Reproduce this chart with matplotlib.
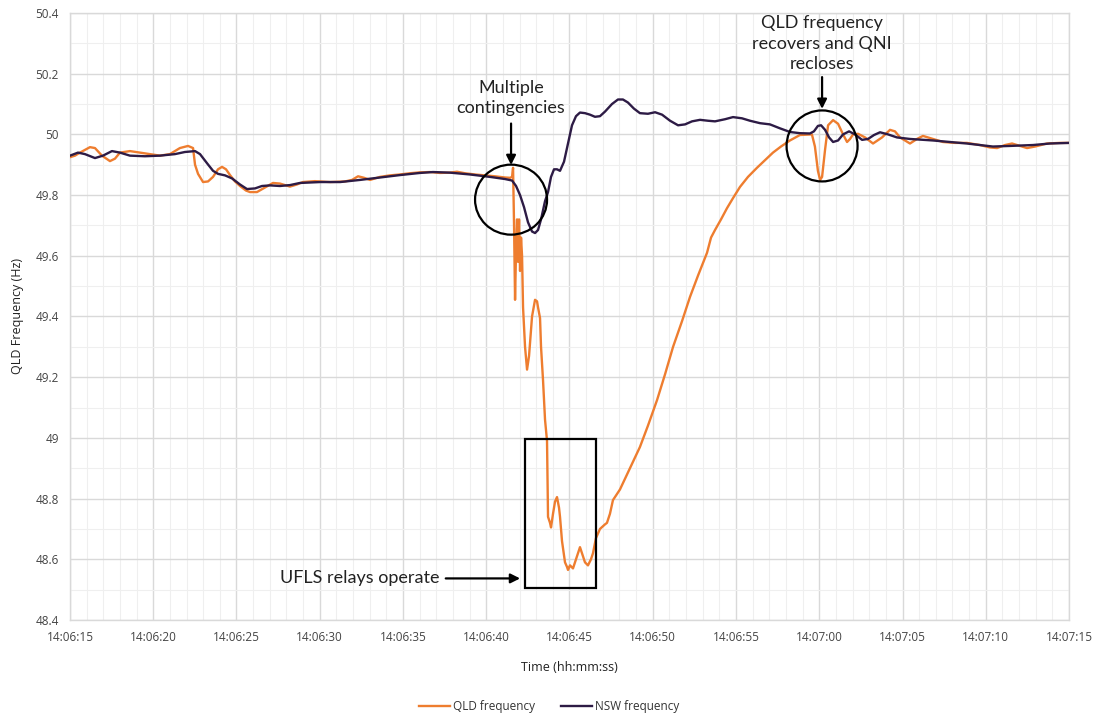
import matplotlib
matplotlib.use("Agg")
import matplotlib.pyplot as plt
from matplotlib.patches import Ellipse, Rectangle
from matplotlib.ticker import MultipleLocator, FixedLocator

plt.rcParams['font.family'] = ['Open Sans', 'DejaVu Sans']

# Time in seconds after 14:06:00, frequency in Hz
qld_t = [15.0, 15.3, 15.6, 16.2, 16.5, 16.92, 17.4, 17.7, 18.0, 18.6, 19.2, 19.8, 20.4, 21.0,
         21.6, 22.09, 22.39, 22.51, 22.69, 22.99, 23.29, 23.59, 23.89, 24.13, 24.37, 24.61,
         24.91, 25.21, 25.57, 25.81, 26.23, 26.71, 27.19, 27.61, 28.21, 28.63, 28.99, 29.71,
         30.62, 31.52, 31.94, 32.30, 32.66, 33.02, 33.62, 34.22, 34.82, 35.42, 36.02, 36.62,
         37.22, 37.82, 38.24, 38.72, 39.32, 39.92, 40.52, 41.12, 41.43, 41.55, 41.61, 41.67,
         41.73, 41.79, 41.85, 41.91, 41.97, 42.03, 42.09, 42.15, 42.21, 42.33, 42.45, 42.57,
         42.75, 42.93, 43.05, 43.11, 43.23, 43.29, 43.41, 43.53, 43.65, 43.71, 43.83, 43.89,
         44.01, 44.13, 44.25, 44.37, 44.43, 44.55, 44.73, 44.85, 44.91, 45.03, 45.21, 45.45,
         45.63, 45.75, 45.93, 46.11, 46.29, 46.41, 46.59, 46.83, 47.13, 47.25, 47.43, 47.61,
         48.03, 48.63, 49.23, 49.71, 50.26, 50.74, 51.22, 51.76, 52.24, 52.72, 53.26, 53.5,
         53.74, 54.1, 54.46, 54.82, 55.24, 55.72, 56.26, 56.74, 57.22, 57.7, 58.24, 58.84,
         59.56, 59.74, 59.92, 60.05, 60.17, 60.35, 60.53, 60.83, 61.13, 61.43, 61.67, 61.85,
         62.03, 62.33, 62.75, 63.23, 63.77, 64.25, 64.55, 64.85, 65.45, 65.87, 66.23, 66.83,
         67.43, 68.15, 68.87, 69.65, 70.25, 70.68, 71.16, 71.58, 72.06, 72.48, 72.96, 73.68,
         74.46, 75.0]
qld_f = [49.925, 49.93, 49.94, 49.958, 49.955, 49.93, 49.912, 49.92, 49.94, 49.945, 49.94,
         49.935, 49.93, 49.935, 49.955, 49.962, 49.955, 49.90, 49.87, 49.843, 49.845, 49.86,
         49.885, 49.893, 49.885, 49.866, 49.845, 49.83, 49.815, 49.81, 49.81, 49.825, 49.84,
         49.838, 49.828, 49.835, 49.843, 49.846, 49.843, 49.845, 49.85, 49.862, 49.857, 49.85,
         49.86, 49.865, 49.868, 49.872, 49.875, 49.876, 49.873, 49.874, 49.877, 49.872, 49.868,
         49.865, 49.862, 49.858, 49.857, 49.86, 49.89, 49.70, 49.455, 49.62, 49.72, 49.58,
         49.72, 49.55, 49.66, 49.60, 49.43, 49.30, 49.225, 49.27, 49.40, 49.455, 49.45, 49.43,
         49.395, 49.30, 49.19, 49.06, 48.99, 48.74, 48.72, 48.705, 48.75, 48.79, 48.805, 48.77,
         48.74, 48.66, 48.59, 48.575, 48.565, 48.58, 48.57, 48.61, 48.64, 48.62, 48.59, 48.58,
         48.60, 48.62, 48.67, 48.70, 48.715, 48.72, 48.75, 48.795, 48.83, 48.90, 48.97, 49.04,
         49.125, 49.21, 49.30, 49.385, 49.465, 49.535, 49.61, 49.66, 49.685, 49.72, 49.757,
         49.79, 49.827, 49.86, 49.89, 49.915, 49.94, 49.96, 49.98, 49.998, 50.0, 49.96, 49.88,
         49.85, 49.86, 49.95, 50.03, 50.047, 50.035, 50.0, 49.975, 49.985, 50.0, 50.002, 49.99,
         49.97, 49.99, 50.015, 50.01, 49.99, 49.97, 49.985, 49.995, 49.985, 49.975, 49.972,
         49.972, 49.965, 49.957, 49.955, 49.965, 49.97, 49.962, 49.955, 49.96, 49.97, 49.972,
         49.972]

nsw_t = [15.0, 15.48, 15.9, 16.5, 16.98, 17.52, 18.0, 18.6, 19.5, 20.4, 21.3, 21.9, 22.51,
         22.81, 23.23, 23.59, 23.89, 24.31, 24.73, 25.21, 25.63, 26.11, 26.53, 27.01, 27.61,
         28.21, 28.81, 30.02, 31.22, 32.42, 33.62, 34.82, 36.02, 36.8, 37.82, 39.02, 40.22,
         41.12, 41.55, 41.79, 42.03, 42.27, 42.51, 42.75, 42.93, 43.11, 43.29, 43.53, 43.71,
         43.89, 44.07, 44.25, 44.43, 44.67, 44.91, 45.15, 45.39, 45.63, 45.93, 46.23, 46.53,
         46.83, 47.13, 47.55, 47.91, 48.21, 48.51, 48.87, 49.23, 49.71, 50.14, 50.56, 51.04,
         51.52, 51.94, 52.36, 52.84, 53.32, 53.74, 54.34, 54.82, 55.36, 55.84, 56.44, 57.04,
         57.64, 58.24, 58.84, 59.44, 59.68, 59.92, 60.11, 60.35, 60.59, 60.83, 61.13, 61.43,
         61.79, 62.15, 62.57, 62.93, 63.29, 63.65, 64.13, 64.67, 65.45, 66.83, 67.85, 68.87,
         69.65, 70.43, 71.46, 72.84, 73.86, 75.0]
nsw_f = [49.93, 49.94, 49.935, 49.922, 49.93, 49.945, 49.94, 49.93, 49.928, 49.93, 49.935,
         49.942, 49.945, 49.935, 49.905, 49.88, 49.87, 49.865, 49.855, 49.835, 49.82, 49.822,
         49.83, 49.832, 49.83, 49.833, 49.84, 49.843, 49.843, 49.85, 49.858, 49.866, 49.873,
         49.876, 49.874, 49.868, 49.86, 49.853, 49.848, 49.83, 49.80, 49.76, 49.71, 49.68,
         49.675, 49.685, 49.72, 49.78, 49.81, 49.86, 49.885, 49.885, 49.88, 49.91, 49.97,
         50.03, 50.06, 50.072, 50.07, 50.065, 50.058, 50.06, 50.075, 50.1, 50.115, 50.115,
         50.105, 50.085, 50.07, 50.068, 50.073, 50.065, 50.045, 50.03, 50.033, 50.043, 50.048,
         50.045, 50.043, 50.05, 50.057, 50.053, 50.045, 50.037, 50.033, 50.02, 50.008, 50.004,
         50.003, 50.01, 50.028, 50.03, 50.015, 49.99, 49.975, 49.98, 50.0, 50.01, 50.0, 49.982,
         49.985, 49.998, 50.007, 50.0, 49.99, 49.985, 49.98, 49.975, 49.97, 49.965, 49.96,
         49.962, 49.965, 49.97, 49.972]

x_ticks = [15, 20, 25, 30, 35, 40, 45, 50, 55, 60, 65, 70, 75]
x_tick_labels = ["14:06:15", "14:06:20", "14:06:25", "14:06:30", "14:06:35", "14:06:40",
                 "14:06:45", "14:06:50", "14:06:55", "14:07:00", "14:07:05", "14:07:10",
                 "14:07:15"]
y_ticks = [48.4, 48.6, 48.8, 49.0, 49.2, 49.4, 49.6, 49.8, 50.0, 50.2, 50.4]
y_tick_labels = ["48.4", "48.6", "48.8", "49", "49.2", "49.4", "49.6", "49.8", "50", "50.2", "50.4"]

QLD_COLOR = "#EE7D2F"
NSW_COLOR = "#2D1B45"

fig = plt.figure(figsize=(11.05, 7.15), dpi=100)
ax = fig.add_axes([70 / 1105, 1 - 620 / 715, 999 / 1105, 607 / 715])

ax.set_xlim(15, 75)
ax.set_ylim(48.4, 50.4)

ax.xaxis.set_major_locator(FixedLocator(x_ticks))
ax.set_xticklabels(x_tick_labels)
ax.xaxis.set_minor_locator(MultipleLocator(1))
ax.yaxis.set_major_locator(FixedLocator(y_ticks))
ax.set_yticklabels(y_tick_labels)
ax.yaxis.set_minor_locator(MultipleLocator(0.1))

ax.grid(which="major", color="#d9d9d9", linewidth=1.0)
ax.grid(which="minor", color="#efefef", linewidth=0.8)
ax.set_axisbelow(True)
for side, sp in ax.spines.items():
    sp.set_color("#d9d9d9")
    sp.set_linewidth(1.0)
ax.tick_params(which="both", length=0, colors="#444444", labelsize=8.5)
ax.tick_params(axis="x", pad=8)
ax.tick_params(axis="y", pad=8)

ax.plot(qld_t, qld_f, color=QLD_COLOR, linewidth=1.7, label="QLD frequency", zorder=3)
ax.plot(nsw_t, nsw_f, color=NSW_COLOR, linewidth=1.7, label="NSW frequency", zorder=4)

ax.set_xlabel("Time (hh:mm:ss)", fontsize=9, color="#222222", labelpad=12)
ax.set_ylabel("QLD Frequency (Hz)", fontsize=9, color="#222222", labelpad=8)

# Annotations
anno_font = dict(fontsize=13, color="#222222", ha="center", family=["Lato", "DejaVu Sans"])
px_s = 999 / 60.0
px_hz = 607 / 2.0

ax.add_patch(Ellipse((41.49, 49.785), 72 / px_s, 70 / px_hz, fill=False,
                     edgecolor="black", linewidth=1.6, zorder=5))
ax.add_patch(Ellipse((60.17, 49.962), 71 / px_s, 71 / px_hz, fill=False,
                     edgecolor="black", linewidth=1.6, zorder=5))
ax.add_patch(Rectangle((42.33, 48.506), 4.27, 0.489, fill=False,
                       edgecolor="black", linewidth=1.6, zorder=5))

ax.text(41.49, 50.06, "Multiple\ncontingencies", va="bottom", linespacing=1.3, **anno_font)
ax.annotate("", xy=(41.49, 49.89), xytext=(41.49, 50.045),
            arrowprops=dict(arrowstyle="-|>", color="black", lw=1.6, mutation_scale=14))

ax.text(60.17, 50.205, "QLD frequency\nrecovers and QNI\nrecloses", va="bottom",
        linespacing=1.35, **anno_font)
ax.annotate("", xy=(60.17, 50.075), xytext=(60.17, 50.198),
            arrowprops=dict(arrowstyle="-|>", color="black", lw=1.6, mutation_scale=14))

ax.text(37.2, 48.537, "UFLS relays operate", va="center", ha="right", fontsize=13,
        color="#222222", family=["Lato", "DejaVu Sans"])
ax.annotate("", xy=(42.2, 48.537), xytext=(37.4, 48.537),
            arrowprops=dict(arrowstyle="-|>", color="black", lw=1.6, mutation_scale=14))

leg = fig.legend(loc="lower center", bbox_to_anchor=(0.497, -0.012), ncol=2, frameon=False,
                 fontsize=8.5, handlelength=2.6, columnspacing=2.2, handletextpad=0.3)
for txt in leg.get_texts():
    txt.set_color("#333333")

fig.savefig("out.png", dpi=100, facecolor="white")
